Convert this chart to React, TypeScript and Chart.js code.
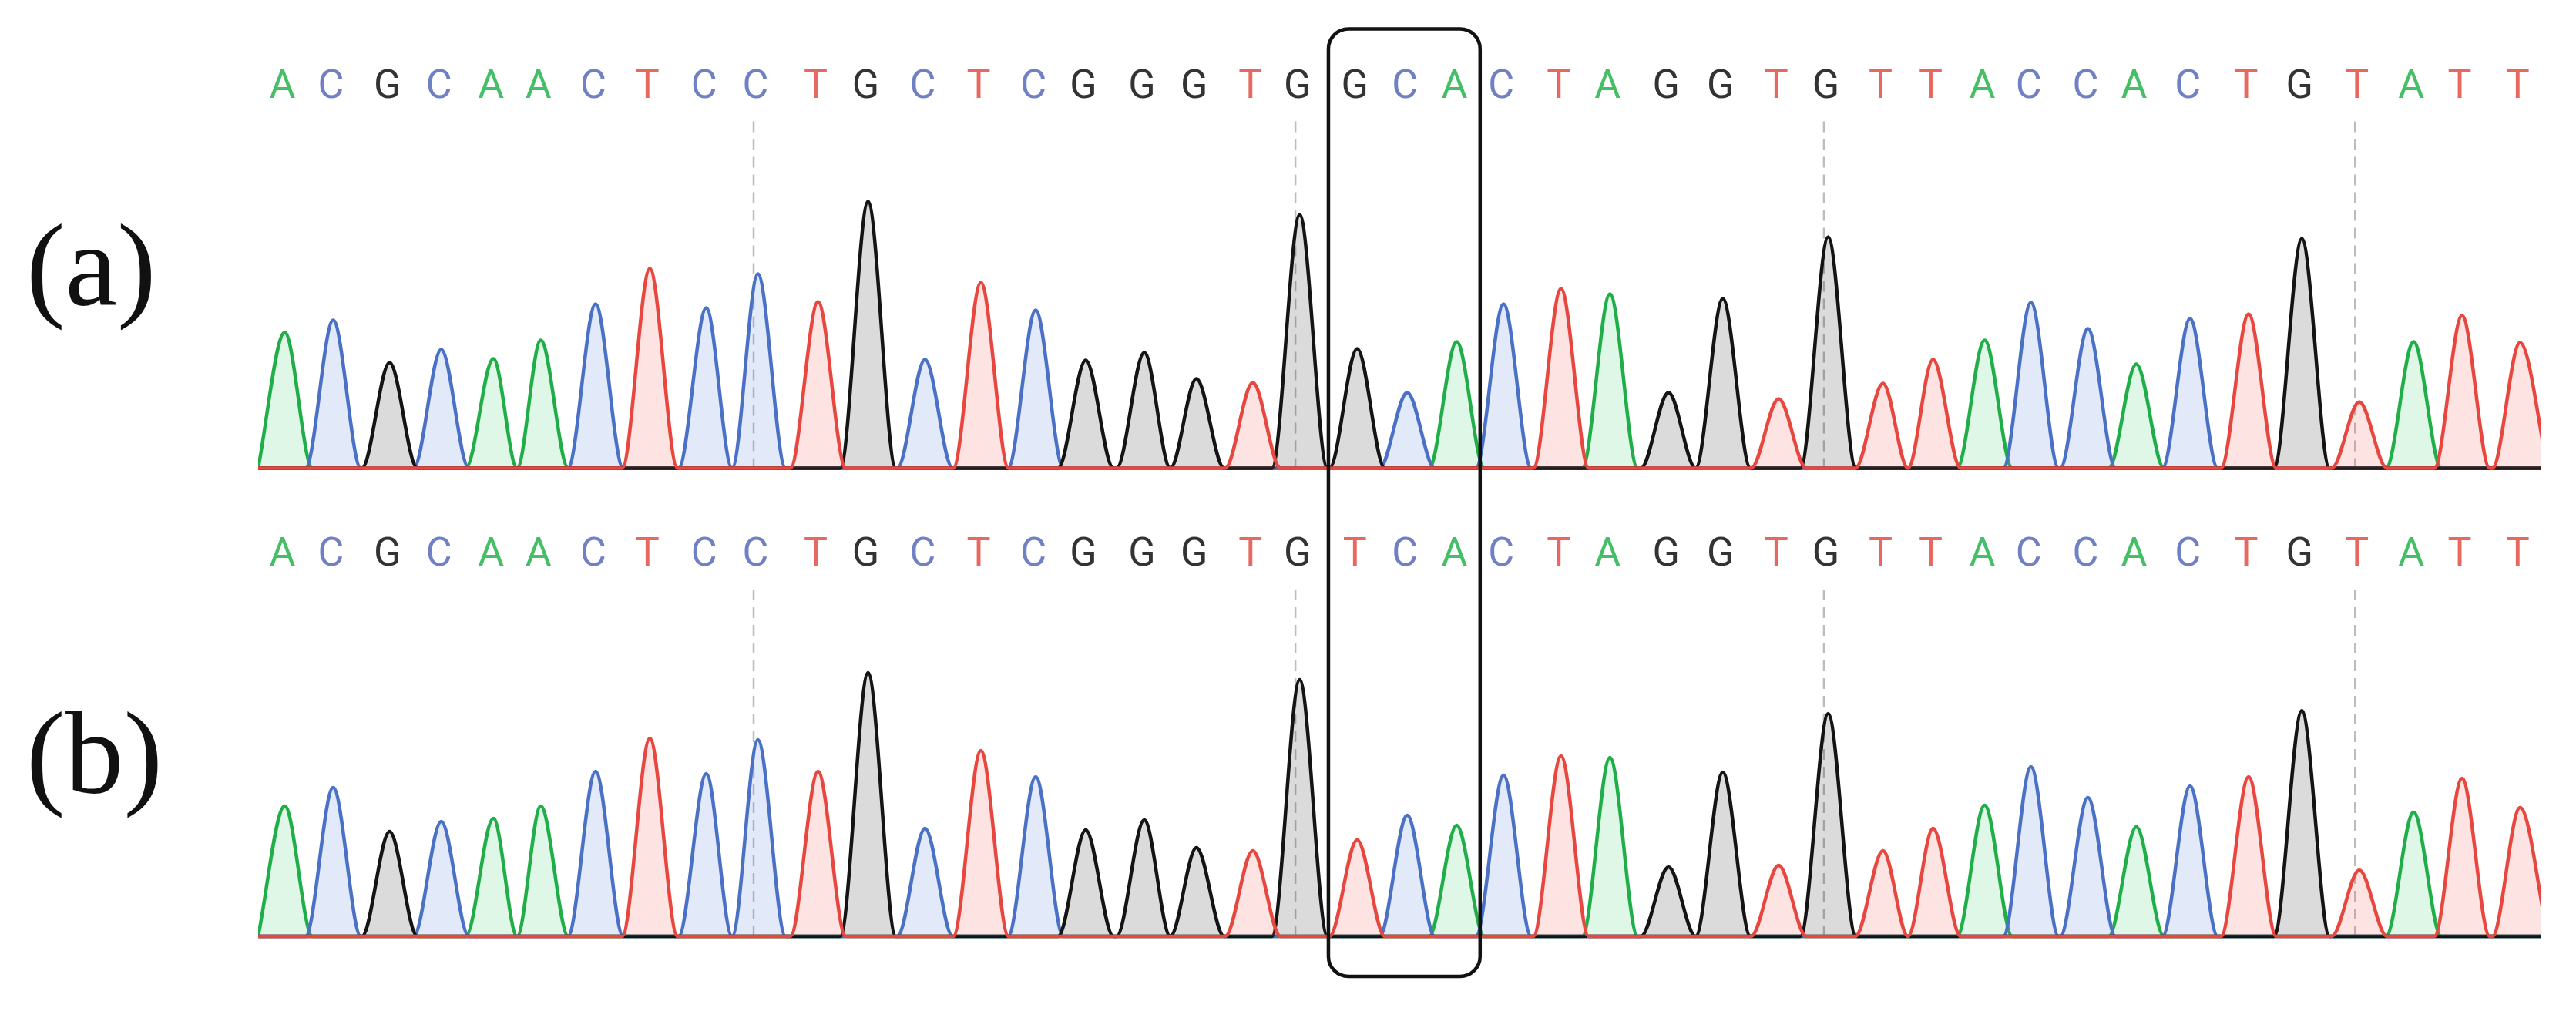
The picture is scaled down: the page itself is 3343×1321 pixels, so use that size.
import React, { useEffect, useRef } from "react";
import { Chart, registerables } from "chart.js";

Chart.register(...registerables);

// Base calls of the two reads
const callsA = "ACGCAACTCCTGCTCGGGTGGCACTAGGTGTTACCACTGTATT".split("");
const callsB = "ACGCAACTCCTGCTCGGGTGTCACTAGGTGTTACCACTGTATT".split("");

// Peak locations (in base units along the trace)
const peakPos = [
  0, 0.91, 1.97, 2.94, 3.92, 4.81, 5.84, 6.86, 7.92, 8.89,
  10.02, 10.96, 12.03, 13.08, 14.11, 15.05, 16.15, 17.13, 18.19, 19.07,
  20.15, 21.09, 22.02, 22.9, 23.98, 24.9, 26.0, 27.02, 28.07, 29.0,
  30.03, 30.97, 31.94, 32.81, 33.88, 34.79, 35.8, 36.9, 37.9, 38.98,
  40.0, 40.91, 42.0,
];

// Peak heights (signal intensity) for read (a) and read (b)
const heightsA = [
  176, 192, 137, 154, 142, 166, 213, 259, 208, 252,
  216, 346, 141, 241, 205, 140, 150, 116, 111, 329,
  155, 98, 164, 213, 233, 226, 98, 220, 90, 300,
  110, 141, 166, 215, 181, 135, 194, 200, 298, 86,
  164, 198, 163,
];
const heightsB = [
  169, 193, 136, 149, 153, 169, 214, 257, 211, 255,
  214, 342, 140, 241, 207, 138, 151, 115, 111, 333,
  125, 157, 144, 209, 234, 232, 90, 213, 92, 289,
  111, 140, 170, 220, 180, 142, 195, 207, 293, 86,
  161, 205, 167,
];

// Every 10th base is marked with a dashed guide
const markerIdx = [9, 19, 29, 39];
// Highlighted bases (mutation site): indices 20..22
const boxFrom = 20;
const boxTo = 22;

const panelLabels = ["(a)", "(b)"];

const traceColor: Record<string, string> = {
  A: "#1fae48",
  C: "#4a71c6",
  G: "#141414",
  T: "#e8473f",
};
const fillColor: Record<string, string> = {
  A: "rgba(60, 205, 105, 0.17)",
  C: "rgba(95, 140, 230, 0.18)",
  G: "rgba(0, 0, 0, 0.14)",
  T: "rgba(245, 95, 85, 0.17)",
};
const letterColor: Record<string, string> = {
  A: "#45bf66",
  C: "#6f80c4",
  G: "#333333",
  T: "#e8675e",
};

const HALF = 0.52;
const TRACE_START = -0.5;
const TRACE_END = 42.4;

function buildTrace(base: string, calls: string[], heights: number[]) {
  const pts: { x: number; y: number }[] = [{ x: TRACE_START, y: 0 }];
  calls.forEach((c, i) => {
    if (c !== base) return;
    const p = peakPos[i];
    const left = p - HALF;
    const last = pts[pts.length - 1];
    if (pts.length > 1 && last.x >= left) {
      const prevPeak = pts[pts.length - 2];
      last.x = (prevPeak.x + p) / 2;
    } else if (left > last.x) {
      pts.push({ x: left, y: 0 });
    }
    pts.push({ x: p, y: heights[i] });
    pts.push({ x: p + HALF, y: 0 });
  });
  if (pts[pts.length - 1].x < TRACE_END) pts.push({ x: TRACE_END, y: 0 });
  return pts;
}

const overlayPlugin = {
  id: "chromOverlay",
  beforeDatasetsDraw(chart: any) {
    const { ctx, scales } = chart;
    const xs = scales.x;
    ctx.save();
    ctx.strokeStyle = "#bcbcbc";
    ctx.lineWidth = 2.5;
    ctx.setLineDash([14, 9]);
    ["ya", "yb"].forEach((id) => {
      const ys = scales[id];
      markerIdx.forEach((i) => {
        const px = xs.getPixelForValue(peakPos[i] - 0.08);
        ctx.beginPath();
        ctx.moveTo(px, ys.getPixelForValue(450));
        ctx.lineTo(px, ys.getPixelForValue(0));
        ctx.stroke();
      });
    });
    ctx.restore();
  },
  afterDraw(chart: any) {
    const { ctx, scales } = chart;
    const xs = scales.x;
    ctx.save();
    // base-call letters
    ctx.font = '52px Roboto, "Liberation Sans", sans-serif';
    ctx.textAlign = "center";
    ctx.textBaseline = "alphabetic";
    [
      { calls: callsA, ys: scales.ya },
      { calls: callsB, ys: scales.yb },
    ].forEach(({ calls, ys }) => {
      const y = ys.getPixelForValue(481);
      calls.forEach((c, i) => {
        ctx.fillStyle = letterColor[c];
        ctx.fillText(c, xs.getPixelForValue(peakPos[i]) - 3, y);
      });
    });
    // panel labels
    ctx.font = '152px "Liberation Serif", "Times New Roman", serif';
    ctx.textAlign = "left";
    ctx.fillStyle = "#111111";
    ctx.fillText(panelLabels[0], 34, scales.ya.getPixelForValue(212));
    ctx.fillText(panelLabels[1], 34, scales.yb.getPixelForValue(186));
    // highlight box
    const left = xs.getPixelForValue((peakPos[boxFrom - 1] + peakPos[boxFrom]) / 2);
    const right = xs.getPixelForValue((peakPos[boxTo] + peakPos[boxTo + 1]) / 2);
    const top = scales.ya.getPixelForValue(570);
    const bottom = scales.yb.getPixelForValue(-52);
    ctx.strokeStyle = "#111111";
    ctx.lineWidth = 4.5;
    ctx.beginPath();
    (ctx as any).roundRect(left, top, right - left, bottom - top, 26);
    ctx.stroke();
    ctx.restore();
  },
};

export default function App() {
  const ref = useRef<HTMLCanvasElement | null>(null);

  useEffect(() => {
    if (!ref.current) return;
    const order = ["T", "G", "C", "A"];
    const datasets: any[] = [];
    [
      { calls: callsA, heights: heightsA, axis: "ya" },
      { calls: callsB, heights: heightsB, axis: "yb" },
    ].forEach(({ calls, heights, axis }) => {
      order.forEach((b) => {
        datasets.push({
          label: b,
          data: buildTrace(b, calls, heights),
          yAxisID: axis,
          borderColor: traceColor[b],
          backgroundColor: fillColor[b],
          borderWidth: 4.5,
          fill: "origin",
          pointRadius: 0,
          cubicInterpolationMode: "monotone",
        });
      });
    });

    const chart = new Chart(ref.current, {
      type: "line",
      data: { datasets },
      plugins: [overlayPlugin],
      options: {
        animation: false,
        responsive: true,
        maintainAspectRatio: false,
        layout: { padding: { left: 335, right: 45, top: 0, bottom: 0 } },
        plugins: { legend: { display: false }, tooltip: { enabled: false } },
        scales: {
          x: { type: "linear", min: TRACE_START, max: TRACE_END, display: false },
          ya: { type: "linear", min: -713.5, max: 607.5, display: false },
          yb: { type: "linear", min: -106, max: 1215, display: false },
        },
      },
    });
    return () => chart.destroy();
  }, []);

  return (
    <div
      style={{
        position: "absolute",
        left: 0,
        top: 0,
        width: 3343,
        height: 1321,
        background: "#ffffff",
      }}
    >
      <canvas ref={ref} />
    </div>
  );
}
